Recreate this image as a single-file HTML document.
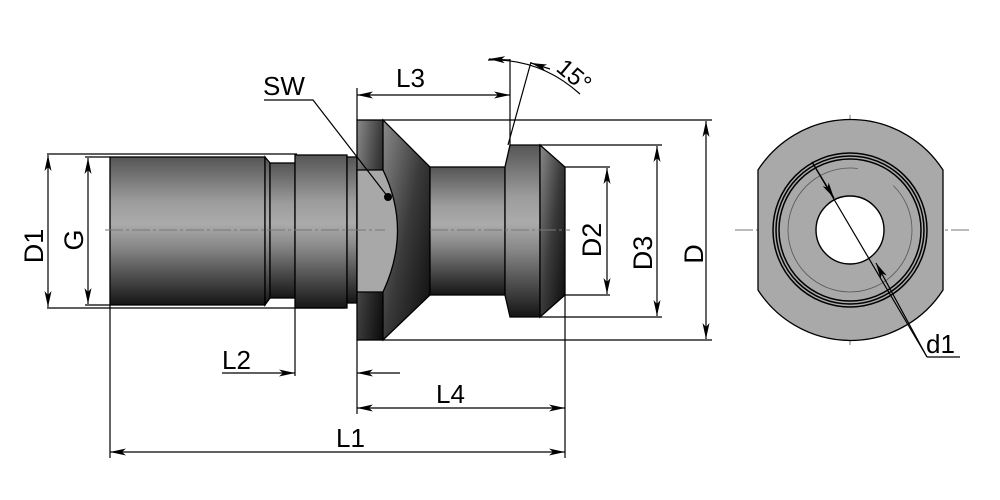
<!DOCTYPE html>
<html><head><meta charset="utf-8"><style>
html,body{margin:0;padding:0;background:#fff;width:1000px;height:500px;overflow:hidden}
text{font-family:"Liberation Sans",sans-serif;fill:#000}
</style></head><body>
<svg width="1000" height="500" viewBox="0 0 1000 500" xmlns="http://www.w3.org/2000/svg">
<defs>
<linearGradient id="cyl" x1="0" y1="0" x2="0" y2="1">
<stop offset="0" stop-color="#555"/><stop offset="0.3" stop-color="#9c9c9c"/><stop offset="0.45" stop-color="#ababab"/><stop offset="0.6" stop-color="#8a8a8a"/><stop offset="1" stop-color="#151515"/>
</linearGradient>
<linearGradient id="dark" x1="0" y1="0" x2="1" y2="1">
<stop offset="0" stop-color="#8a8a8a"/><stop offset="0.5" stop-color="#3a3a3a"/><stop offset="1" stop-color="#0a0a0a"/>
</linearGradient>
<marker id="a" viewBox="0 0 16 7" refX="16" refY="3.5" markerWidth="16" markerHeight="7" orient="auto-start-reverse" markerUnits="userSpaceOnUse"><path d="M0,0 L16,3.5 L0,7 L4,3.5z" fill="#000"/></marker>
</defs>
<g stroke="#000" stroke-width="1.3">
<rect x="110" y="157" width="155" height="148" fill="url(#cyl)"/>
<polygon points="265,157 270,163 270,298 265,305" fill="url(#cyl)"/>
<rect x="270" y="163" width="25" height="135" fill="url(#cyl)"/>
<rect x="295" y="155" width="52" height="153" fill="url(#cyl)"/>
<rect x="347" y="157" width="10" height="146" fill="url(#cyl)"/>
<rect x="357" y="120" width="26" height="220" fill="url(#dark)"/>
<polygon points="383,120 430,167 430,295 383,340" fill="url(#dark)"/>
<path d="M357,170 L383,170 Q412,230 383,292 L357,292 Z" fill="#a8a8a8"/>
<rect x="430" y="167" width="75" height="128" fill="url(#cyl)"/>
<polygon points="510,145 540,145 540,317 510,317 505,295 505,167" fill="url(#cyl)"/>
<polygon points="540,145 565,167 565,295 540,317" fill="url(#dark)"/>
</g>
<g stroke="#777" stroke-width="1" stroke-dasharray="18,3,3,3">
<line x1="105" y1="230" x2="385" y2="230"/><line x1="430" y1="230" x2="570" y2="230"/>
<line x1="735" y1="230" x2="970" y2="230"/><line x1="850" y1="115" x2="850" y2="345"/>
</g>
<g stroke="#000" stroke-width="1.2" fill="none">
<line x1="47" y1="154" x2="297" y2="154"/><line x1="47" y1="308" x2="345" y2="308"/>
<line x1="85" y1="157" x2="110" y2="157"/><line x1="85" y1="305" x2="110" y2="305"/>
<line x1="48" y1="155" x2="48" y2="307" marker-start="url(#a)" marker-end="url(#a)"/>
<line x1="88" y1="158" x2="88" y2="304" marker-start="url(#a)" marker-end="url(#a)"/>
<line x1="110" y1="305" x2="110" y2="458"/>
<line x1="110" y1="452" x2="565" y2="452" marker-start="url(#a)" marker-end="url(#a)"/>
<line x1="295" y1="308" x2="295" y2="376"/>
<line x1="222" y1="373" x2="295" y2="373" marker-end="url(#a)"/>
<line x1="400" y1="373" x2="357" y2="373" marker-end="url(#a)"/>
<line x1="357" y1="340" x2="357" y2="414"/><line x1="357" y1="88" x2="357" y2="120"/>
<line x1="357" y1="408" x2="565" y2="408" marker-start="url(#a)" marker-end="url(#a)"/>
<line x1="565" y1="295" x2="565" y2="458"/>
<line x1="357" y1="95" x2="510" y2="95" marker-start="url(#a)" marker-end="url(#a)"/>
<line x1="510" y1="59" x2="510" y2="145"/>
<line x1="531" y1="62" x2="508" y2="145"/>
<path d="M488,60 Q540,58 580,94"/>
<line x1="489" y1="59" x2="510" y2="60" marker-start="url(#a)"/>
<line x1="550" y1="69" x2="531" y2="63" marker-end="url(#a)"/>
<line x1="383" y1="120" x2="712" y2="120"/><line x1="383" y1="340" x2="712" y2="340"/>
<line x1="540" y1="145" x2="662" y2="145"/><line x1="540" y1="317" x2="662" y2="317"/>
<line x1="565" y1="167" x2="610" y2="167"/><line x1="565" y1="295" x2="610" y2="295"/>
<line x1="706" y1="121" x2="706" y2="339" marker-start="url(#a)" marker-end="url(#a)"/>
<line x1="657" y1="146" x2="657" y2="316" marker-start="url(#a)" marker-end="url(#a)"/>
<line x1="607" y1="168" x2="607" y2="294" marker-start="url(#a)" marker-end="url(#a)"/>
<polyline points="264,100 313,100 388,197"/>
</g>
<circle cx="388" cy="197" r="4" fill="#000"/>
<path d="M758,170 A110,110 0 0 1 943,170 L943,290 A110,110 0 0 1 758,290 Z" fill="#a9a9a9" stroke="#000" stroke-width="1.3"/>
<g fill="none" stroke="#000">
<circle cx="850" cy="230" r="77" stroke-width="1.5"/>
<circle cx="850" cy="230" r="74" stroke-width="1.5"/>
<circle cx="850" cy="230" r="71" stroke-width="1.5"/>
<circle cx="850" cy="230" r="62" stroke="#555" stroke-width="0.8" stroke-dasharray="300,40"/>
</g>
<circle cx="850" cy="230" r="34" fill="#fff" stroke="#000" stroke-width="1.4"/>
<g stroke="#000" stroke-width="1.2" fill="none">
<line x1="812" y1="162" x2="834" y2="198" marker-end="url(#a)"/>
<line x1="927" y1="357" x2="876" y2="263" marker-end="url(#a)"/>
<line x1="812" y1="162" x2="927" y2="357"/>
<line x1="927" y1="357" x2="960" y2="357"/>
</g>
<text x="263" y="95" font-size="26">SW</text>
<text x="396" y="87" font-size="26">L3</text>
<text x="222" y="369" font-size="26">L2</text>
<text x="436" y="403" font-size="26">L4</text>
<text x="336" y="447" font-size="26">L1</text>
<text x="926" y="353" font-size="26">d1</text>
<text x="0" y="0" font-size="24" transform="translate(555,70) rotate(40)">15°</text>
<text font-size="27" transform="translate(43,246) rotate(-90)" text-anchor="middle">D1</text>
<text font-size="27" transform="translate(83,240) rotate(-90)" text-anchor="middle">G</text>
<text font-size="27" transform="translate(601,240) rotate(-90)" text-anchor="middle">D2</text>
<text font-size="27" transform="translate(652,253) rotate(-90)" text-anchor="middle">D3</text>
<text font-size="27" transform="translate(703,254) rotate(-90)" text-anchor="middle">D</text>
</svg>
</body></html>
